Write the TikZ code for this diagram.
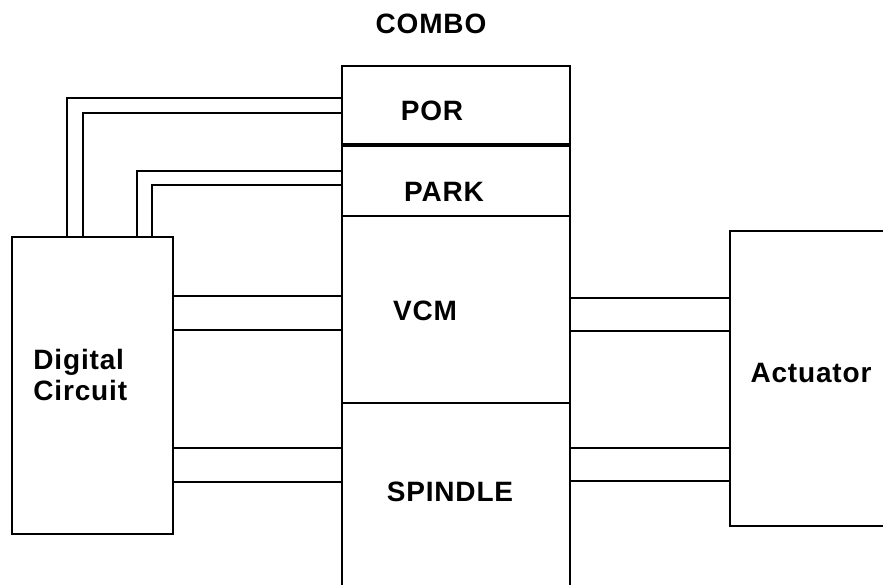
\documentclass[tikz,border=0pt]{standalone}
\usepackage{fontspec}
\setmainfont{Liberation Sans}[LetterSpace=3]
\usetikzlibrary{positioning}

\begin{document}
\begin{tikzpicture}[x=1pt,y=-1pt,line width=2.9pt,
  every node/.style={font=\bfseries\fontsize{28}{31}\selectfont},
  blk/.style={draw,inner sep=0pt,outer sep=0pt,anchor=north west,minimum width=228pt},
  lbl/.style={inner sep=0pt}]
 \clip (0,0) rectangle (883,584);
 % blocks
 \node[blk,minimum width=161pt,minimum height=297pt] (dc) at (12,237) {};
 \node[blk,minimum height=79pt] (por) at (342,66) {};
 \node[blk,minimum height=71pt] (park) at (342,145) {};
 \node[blk,minimum height=187pt] (vcm) at (342,216) {};
 \node[blk,minimum height=220pt] (spindle) at (342,403) {};
 \node[blk,minimum width=220pt,minimum height=295pt] (act) at (730,231) {};
 \draw[line width=4pt] (por.south west) -- (por.south east);
 % labels
 \node[lbl] (combo) at (431,24) {COMBO};
 \node[lbl] (porl) at (432,111) {POR};
 \node[lbl] (parkl) at (444,192) {PARK};
 \node[lbl] (vcml) at (425,311) {VCM};
 \node[lbl] (spl) at (450,492) {SPINDLE};
 \node[lbl,align=left,anchor=west] (dcl) at (32,375) {Digital\\Circuit};
 \node[lbl] (actl) at (811,373) {Actuator};
 % control lines to POR and PARK
 \draw ([xshift=55pt]dc.north west) |- (por.west |- 0,98);
 \draw ([xshift=71pt]dc.north west) |- (por.west |- 0,113);
 \draw ([xshift=125pt]dc.north west) |- (park.west |- 0,171);
 \draw ([xshift=140pt]dc.north west) |- (park.west |- 0,185);
 % drive lines
 \foreach \y/\n in {296/vcm,330/vcm,448/spindle,482/spindle}
   \draw (dc.east |- 0,\y) -- (\n.west |- 0,\y);
 \foreach \y/\n in {298/vcm,331/vcm,448/spindle,481/spindle}
   \draw (\n.east |- 0,\y) -- (act.west |- 0,\y);
\end{tikzpicture}
\end{document}
